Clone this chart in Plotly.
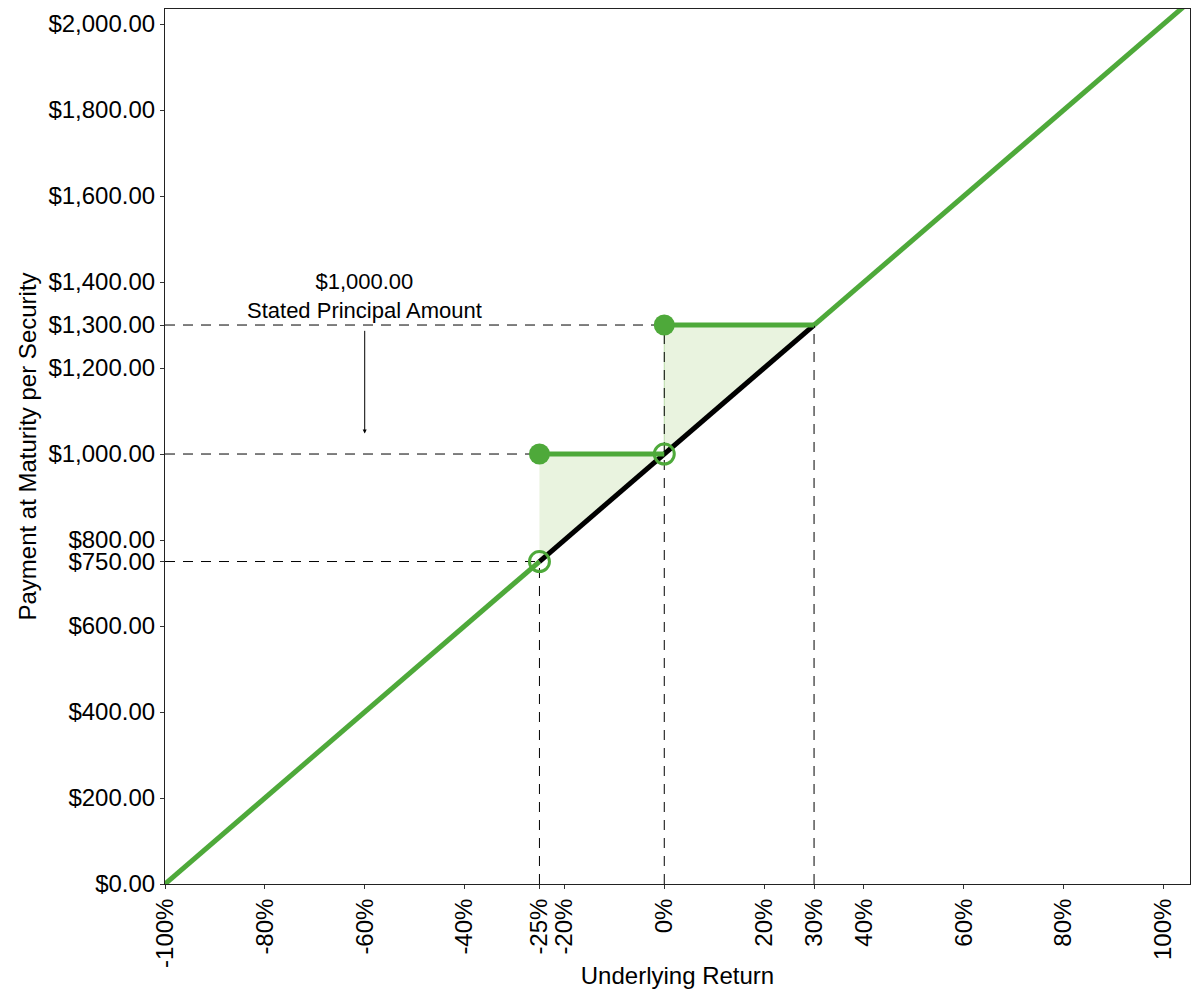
import plotly.graph_objects as go

# axis ticks
x_ticks = [-100, -80, -60, -40, -25, -20, 0, 20, 30, 40, 60, 80, 100]
y_ticks = [0, 200, 400, 600, 750, 800, 1000, 1200, 1300, 1400, 1600, 1800, 2000]

# payoff pieces (underlying return %, payment $)
lower_x = [-100, -25]
lower_y = [0, 750]
buffer_x = [-25, 0]
buffer_y = [1000, 1000]
cap_x = [0, 30]
cap_y = [1300, 1300]
upper_x = [30, 105]
upper_y = [1300, 2050]
underlying_x = [-25, 30]
underlying_y = [750, 1300]
filled_x = [-25, 0]
filled_y = [1000, 1300]
open_x = [-25, 0]
open_y = [750, 1000]

# dashed guide lines
h_guide_y = [750, 1000, 1300]
h_guide_end = [-25, -25, 0]
v_guide_x = [-25, 0, 30]
v_guide_top = [750, 1300, 1300]

GREEN = "#4EA93A"
FILL = "#E9F3DF"
FONT = "Arial, Liberation Sans, sans-serif"

fig = go.Figure()

# shaded gain area between payoff and underlying
fig.add_trace(go.Scatter(
    x=buffer_x + cap_x + underlying_x[::-1],
    y=buffer_y + cap_y + underlying_y[::-1],
    mode="lines", fill="toself", fillcolor=FILL,
    line=dict(color="#B9DCA9", width=1), hoverinfo="skip"
))

for yv, xe in zip(h_guide_y, h_guide_end):
    fig.add_trace(go.Scatter(x=[x_ticks[0], xe], y=[yv, yv], mode="lines",
                             line=dict(color="black", width=1, dash="10px,8px")))
for xv, yt in zip(v_guide_x, v_guide_top):
    fig.add_trace(go.Scatter(x=[xv, xv], y=[0, yt], mode="lines",
                             line=dict(color="black", width=1, dash="10px,8px")))

fig.add_trace(go.Scatter(x=underlying_x, y=underlying_y, mode="lines",
                         line=dict(color="black", width=5)))

for xs, ys in [(lower_x, lower_y), (buffer_x, buffer_y), (cap_x, cap_y), (upper_x, upper_y)]:
    fig.add_trace(go.Scatter(x=xs, y=ys, mode="lines", line=dict(color=GREEN, width=5)))

fig.add_trace(go.Scatter(x=open_x, y=open_y, mode="markers",
                         marker=dict(symbol="circle-open", size=20, color=GREEN,
                                     line=dict(width=3, color=GREEN))))
fig.add_trace(go.Scatter(x=filled_x, y=filled_y, mode="markers",
                         marker=dict(symbol="circle", size=21, color=GREEN)))

fig.add_annotation(x=-60, y=1368, text="$1,000.00<br>Stated Principal Amount",
                   showarrow=False, font=dict(family=FONT, size=22, color="black"))
fig.add_annotation(x=-60, y=1048, ax=-60, ay=1290, axref="x", ayref="y", text="",
                   showarrow=True, arrowhead=2, arrowsize=0.8, arrowwidth=1,
                   arrowcolor="black")

fig.update_layout(
    width=1192, height=984,
    margin=dict(l=157, r=10, t=1, b=108),
    plot_bgcolor="white", paper_bgcolor="white",
    showlegend=False,
    font=dict(family=FONT, size=24, color="black"),
)
fig.update_xaxes(
    range=[-100, 105.3], tickvals=x_ticks, ticktext=[f"{v}%" for v in x_ticks],
    tickangle=-90, showgrid=False, zeroline=False, automargin=False,
    showline=True, linecolor="#222222", linewidth=1, mirror=True,
    ticks="outside", ticklen=4, tickcolor="#333333",
    tickfont=dict(size=24),
    title=dict(text="Underlying Return", font=dict(size=24), standoff=0),
)
fig.update_yaxes(
    range=[0, 2035], tickvals=y_ticks, ticktext=[f"${v:,.2f}" for v in y_ticks],
    showgrid=False, zeroline=False, automargin=False,
    showline=True, linecolor="#222222", linewidth=1, mirror=True,
    ticks="outside", ticklen=4, tickcolor="#333333",
    tickfont=dict(size=24),
    title=dict(text="Payment at Maturity per Security", font=dict(size=24), standoff=5),
)

fig.write_html("out.html")
